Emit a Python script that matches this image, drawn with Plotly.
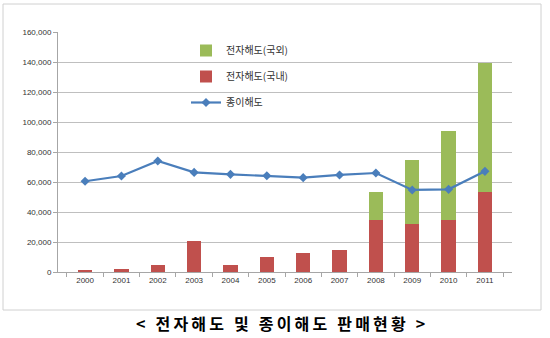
import plotly.graph_objects as go

years = ["2000", "2001", "2002", "2003", "2004", "2005", "2006", "2007", "2008", "2009", "2010", "2011"]
domestic = [1100, 2200, 4400, 20900, 4900, 10200, 12400, 14700, 34400, 32000, 34400, 53100]
overseas = [0, 0, 0, 0, 0, 0, 0, 0, 19100, 42700, 59600, 86400]
paper = [60500, 64000, 74000, 66400, 65100, 64200, 62900, 64700, 66000, 54700, 55100, 67100]

name_over = "전자해도(국외)"
name_dom = "전자해도(국내)"
name_paper = "종이해도"
caption = "< 전자해도 및 종이해도 판매현황 >"
y_ticks = [0, 20000, 40000, 60000, 80000, 100000, 120000, 140000, 160000]

fig = go.Figure()
fig.add_trace(go.Bar(x=years, y=domestic, name=name_dom, marker=dict(color="#C0504D", line=dict(width=0)),
                     legendrank=2, legendgroup="b"))
fig.add_trace(go.Bar(x=years, y=overseas, name=name_over, marker=dict(color="#9BBB59", line=dict(width=0)),
                     legendrank=1, legendgroup="a"))
fig.add_trace(go.Scatter(x=years, y=paper, name=name_paper, mode="lines+markers",
                         line=dict(color="#4A7EBB", width=2.2),
                         marker=dict(symbol="diamond", size=7, color="#4A7EBB"),
                         legendrank=3, legendgroup="c"))

W0, H0 = 454, 240
def px(x):
    return (x - 58) / W0
def py(y):
    return (272 - y) / H0

spaced_caption = "\u2009".join(caption)

fig.update_layout(
    width=550, height=338,
    margin=dict(l=58, r=38, t=32, b=66),
    barmode="stack", bargap=0.61,
    paper_bgcolor="white", plot_bgcolor="white",
    font=dict(family="Liberation Sans, Noto Sans CJK KR", size=8, color="#333333"),
    showlegend=True,
    legend=dict(x=px(186), y=py(36), xanchor="left", yanchor="top",
                bgcolor="rgba(0,0,0,0)", traceorder="grouped", tracegroupgap=7,
                font=dict(family="Noto Sans CJK KR", size=10, color="#333333"),
                itemwidth=30),
    xaxis=dict(type="category", showline=True, linecolor="#A6A6A6", linewidth=1,
               ticks="outside", tickson="boundaries", ticklen=4, tickcolor="#A6A6A6",
               showgrid=False, tickfont=dict(size=8)),
    yaxis=dict(range=[0, 160000], tickvals=y_ticks, tickformat=",d",
               showline=True, linecolor="#A6A6A6", linewidth=1,
               ticks="outside", ticklen=4, tickcolor="#A6A6A6",
               showgrid=True, gridcolor="#BFBFBF", gridwidth=1, zeroline=False,
               tickfont=dict(size=8)),
    shapes=[dict(type="rect", xref="paper", yref="paper",
                 x0=px(3), x1=px(541), y0=py(4), y1=py(310),
                 line=dict(color="#D0D0D0", width=1), fillcolor="rgba(0,0,0,0)", layer="below")],
    annotations=[dict(text="<b>" + spaced_caption + "</b>", xref="paper", yref="paper",
                      x=px(280), y=py(323), xanchor="center", yanchor="middle", showarrow=False,
                      font=dict(family="Noto Sans CJK KR", size=16, color="#000000"))],
)

fig.write_html("out.html")
